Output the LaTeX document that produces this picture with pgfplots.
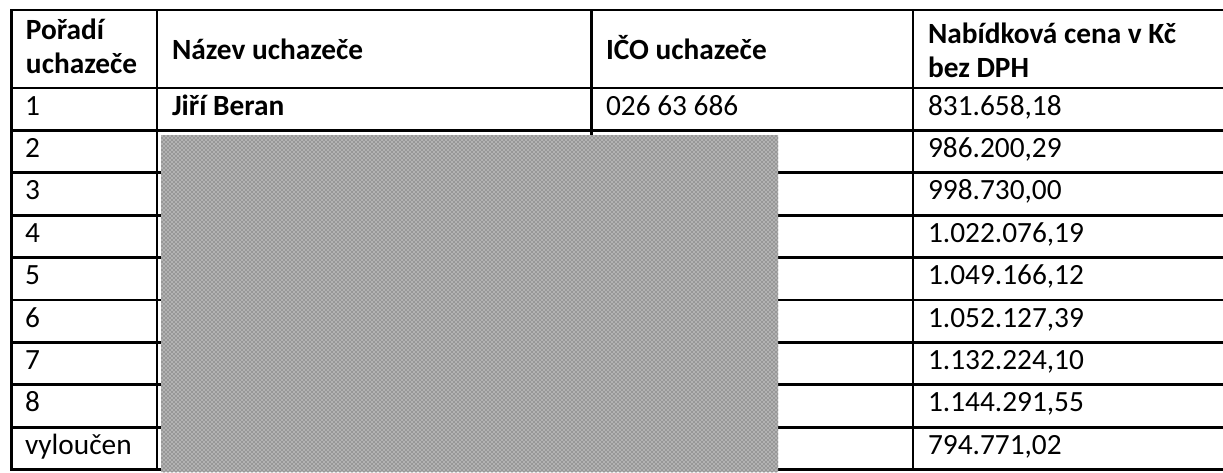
\documentclass[border=0pt]{standalone}
\usepackage{fontspec}
\setmainfont{Carlito}
\usepackage{pgfplots}
\pgfplotsset{compat=1.18}
\usetikzlibrary{patterns}
\tikzset{cell/.style={font=\fontsize{22}{26}\selectfont, anchor=base west, inner sep=0pt, outer sep=0pt}}
\begin{document}
\begin{tikzpicture}
\begin{axis}[
  width=917.25pt, height=354pt, scale only axis,
  xmin=0, xmax=1223, ymin=0, ymax=472, y dir=reverse,
  hide axis, clip=true,
  unbounded coords=jump,
]
% background
\addplot[draw=none, fill=white] coordinates {(0,0) (1223,0) (1223,472) (0,472) (0,0)};
% horizontal rules
\addplot[black, line width=2.2pt] coordinates {
(10,10) (1230,10) (nan,nan)
(10,88) (1230,88) (nan,nan)
(10,130.4) (1230,130.4) (nan,nan)
(10,172.8) (1230,172.8) (nan,nan)
(10,215.2) (1230,215.2) (nan,nan)
(10,257.6) (1230,257.6) (nan,nan)
(10,300) (1230,300) (nan,nan)
(10,342.4) (1230,342.4) (nan,nan)
(10,384.8) (1230,384.8) (nan,nan)
(10,427.2) (1230,427.2) (nan,nan)
(10,469.6) (1230,469.6)
};
% vertical rules
\addplot[black, line width=2.2pt] coordinates {
(11.5,9) (11.5,470.7) (nan,nan)
(157,9) (157,470.7) (nan,nan)
(591.5,9) (591.5,470.7) (nan,nan)
(913,9) (913,470.7)
};
% redaction block
\addplot[draw=none, fill=black!30] coordinates {(161,135) (778,135) (778,472) (161,472) (161,135)};
\addplot[draw=none, pattern=crosshatch dots, pattern color=black!75] coordinates {(161,135) (778,135) (778,472) (161,472) (161,135)};
% header
\node[cell] at (axis cs:26,39) {\bfseries Pořadí};
\node[cell] at (axis cs:26,73) {\bfseries uchazeče};
\node[cell] at (axis cs:172,59) {\bfseries Název uchazeče};
\node[cell] at (axis cs:606,59) {\bfseries IČO uchazeče};
\node[cell] at (axis cs:928,43) {\bfseries Nabídková cena v Kč};
\node[cell] at (axis cs:928,77) {\bfseries bez DPH};
% row 1
\node[cell] at (axis cs:25,115) {1};
\node[cell] at (axis cs:172,115) {\bfseries Jiří Beran};
\node[cell] at (axis cs:606,115) {026 63 686};
\node[cell] at (axis cs:928,115) {831.658,18};
% rows 2..9
\node[cell] at (axis cs:25,157.4) {2};
\node[cell] at (axis cs:928,157.4) {986.200,29};
\node[cell] at (axis cs:25,199.8) {3};
\node[cell] at (axis cs:928,199.8) {998.730,00};
\node[cell] at (axis cs:25,242.2) {4};
\node[cell] at (axis cs:928,242.2) {1.022.076,19};
\node[cell] at (axis cs:25,284.6) {5};
\node[cell] at (axis cs:928,284.6) {1.049.166,12};
\node[cell] at (axis cs:25,327) {6};
\node[cell] at (axis cs:928,327) {1.052.127,39};
\node[cell] at (axis cs:25,369.4) {7};
\node[cell] at (axis cs:928,369.4) {1.132.224,10};
\node[cell] at (axis cs:25,411.8) {8};
\node[cell] at (axis cs:928,411.8) {1.144.291,55};
\node[cell] at (axis cs:25,454.2) {vyloučen};
\node[cell] at (axis cs:928,454.2) {794.771,02};
\end{axis}
\end{tikzpicture}
\end{document}
